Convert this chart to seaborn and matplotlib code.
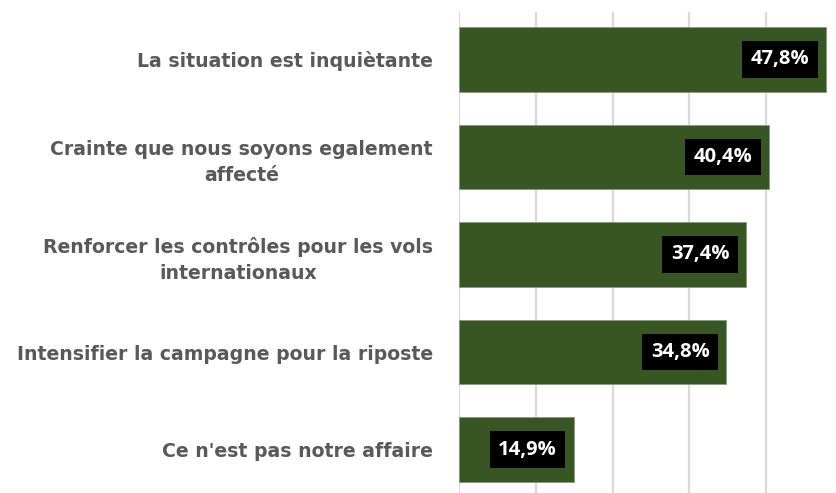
import matplotlib
matplotlib.use("Agg")
import matplotlib.pyplot as plt
import seaborn as sns
import pandas as pd

categories = [
    "La situation est inquiètante",
    "Crainte que nous soyons egalement\naffecté",
    "Renforcer les contrôles pour les vols\ninternationaux",
    "Intensifier la campagne pour la riposte",
    "Ce n'est pas notre affaire",
]
values = [47.8, 40.4, 37.4, 34.8, 14.9]
value_labels = ["47,8%", "40,4%", "37,4%", "34,8%", "14,9%"]

df = pd.DataFrame({"cat": categories, "val": values})

sns.set_theme(style="white")
plt.rcParams["font.family"] = ["Open Sans", "DejaVu Sans"]

W, H = 837, 493
fig = plt.figure(figsize=(W / 100, H / 100), dpi=100)
left = 459.3 / W
ax = fig.add_axes([left, 0.0, 1 - left, 1 - 12 / H])

sns.barplot(data=df, y="cat", x="val", orient="h", color="#375623",
            saturation=1, width=0.665, ax=ax, zorder=3)
for p in ax.patches:
    p.set_edgecolor("#8a9a80")
    p.set_linewidth(0.6)

ax.set_xlim(0, 49.25)
ax.set_ylim(4.446, -0.487)
ax.set_xticks([0, 10, 20, 30, 40])
ax.xaxis.grid(True, color="#d9d9d9", linewidth=1.6, zorder=0)
ax.set_axisbelow(True)
ax.tick_params(axis="x", labelbottom=False, length=0)
ax.tick_params(axis="y", length=0, pad=19, labelcolor="#595959")
for lab in ax.get_yticklabels():
    lab.set_family(["DejaVu Sans"])
    lab.set_fontsize(13.6)
    lab.set_fontweight("bold")
    lab.set_multialignment("center")
    lab.set_linespacing(1.45)
ax.set_xlabel("")
ax.set_ylabel("")
for s in ax.spines.values():
    s.set_visible(False)

for i, (v, t) in enumerate(zip(values, value_labels)):
    ax.annotate(t, xy=(v, i), xytext=(-12, 0), textcoords="offset points",
                ha="right", va="center", color="white", fontsize=14.5,
                fontweight="bold", zorder=5,
                bbox=dict(boxstyle="square,pad=0.42", fc="black", ec="none"))

fig.savefig("out.png", dpi=100)
